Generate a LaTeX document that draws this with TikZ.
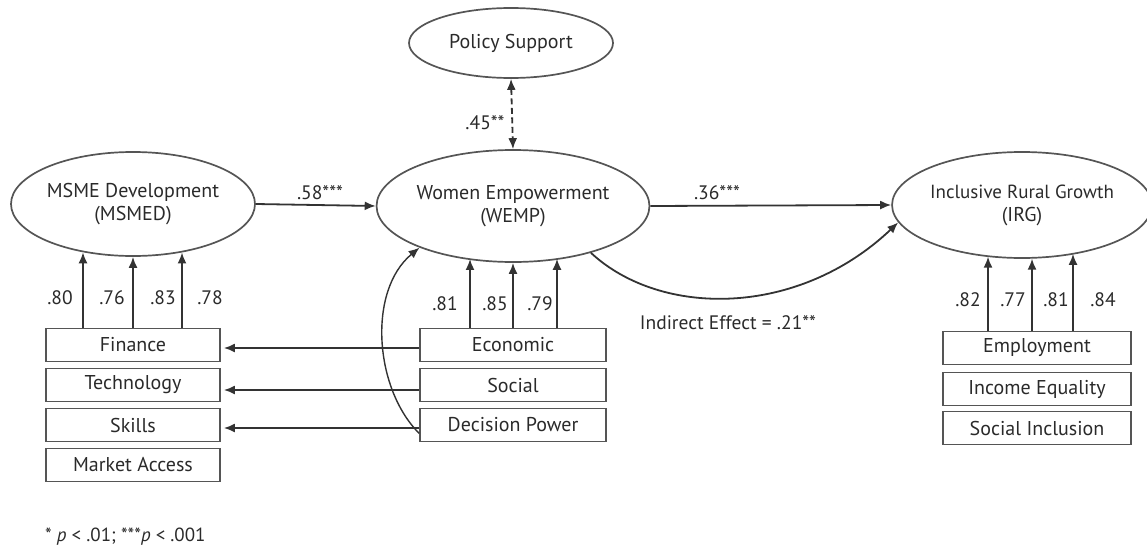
\documentclass[tikz,border=0pt]{standalone}
\usepackage{graphicx}
\usepackage{fontspec}
\setmainfont{PT Sans}
\usetikzlibrary{shapes.geometric,arrows.meta,calc}
\definecolor{txt}{HTML}{2a2a2a}
\definecolor{ln}{HTML}{555555}
\definecolor{ar}{HTML}{333333}
\begin{document}
\begin{tikzpicture}[x=1pt,y=-1pt,
  font=\fontsize{20}{23}\selectfont, text=txt,
  latent/.style={ellipse,draw=ln,line width=1.7pt,inner sep=0pt,align=center},
  indic/.style={rectangle,draw=ln,line width=1.7pt,inner sep=0pt,minimum height=33pt},
  arr/.style={draw=ar,line width=1.8pt,-{Latex[length=11pt,width=9pt]}},
  lab/.style={inner sep=0pt,font=\fontsize{19.5}{22}\selectfont}]
\useasboundingbox (0,0) rectangle (1147,554);
% latent variables
\node[latent,minimum width=244pt,minimum height=104pt] (msmed) at (133,204) {MSME Development\\(MSMED)};
\node[latent,minimum width=204pt,minimum height=70pt] (policy) at (511,43) {Policy Support};
\node[latent,minimum width=234pt,minimum height=112pt] (wemp) at (513,206) {Women Empowerment\\(WEMP)};
\node[latent,minimum width=240pt,minimum height=106pt] (irg) at (1022,205) {{\fontsize{19}{23}\selectfont Inclusive Rural Growth}\\(IRG)};
% indicators
\node[indic,minimum width=174pt] (finance) at (133,345) {Finance};
\node[indic,minimum width=174pt] (tech) at (133,385) {Technology};
\node[indic,minimum width=174pt] (skills) at (133,425) {Skills};
\node[indic,minimum width=174pt] (market) at (133,465) {Market Access};
\node[indic,minimum width=186pt] (econ) at (513,345) {Economic};
\node[indic,minimum width=186pt] (social) at (513,385) {Social};
\node[indic,minimum width=186pt] (decision) at (513,425) {Decision Power};
\node[indic,minimum width=188pt] (employ) at (1037,348) {Employment};
\node[indic,minimum width=188pt] (income) at (1037,389) {Income Equality};
\node[indic,minimum width=188pt] (inclusion) at (1037,428) {Social Inclusion};
% loadings MSMED
\draw[arr] ($(finance.north)+(-50,0)$) -- ($(msmed.south)+(-50,-4.6)$);
\draw[arr] ($(finance.north)+(0,0)$) -- ($(msmed.south)+(0,0)$);
\draw[arr] ($(finance.north)+(49,0)$) -- ($(msmed.south)+(49,-4.4)$);
\node[lab] (l80) at (60,298) {.80};
\node[lab] (l76) at (112,298) {.76};
\node[lab] (l83) at (163,298) {.83};
\node[lab] (l78) at (210,298) {.78};
% loadings WEMP
\draw[arr] ($(econ.north)+(-43,0)$) -- ($(wemp.south)+(-43,-3.9)$);
\draw[arr] ($(econ.north)+(0,0)$) -- ($(wemp.south)+(0,0)$);
\draw[arr] ($(econ.north)+(44,0)$) -- ($(wemp.south)+(44,-4.1)$);
\node[lab] (l81) at (445,304) {.81};
\node[lab] (l85) at (495,304) {.85};
\node[lab] (l79) at (540,304) {.79};
% loadings IRG
\draw[arr] ($(employ.north)+(-49,0)$) -- ($(irg.south)+(-34,-2.2)$);
\draw[arr] ($(employ.north)+(-5,0)$) -- ($(irg.south)+(10,-0.2)$);
\draw[arr] ($(employ.north)+(36,0)$) -- ($(irg.south)+(51,-5)$);
\node[lab] (l82) at (968,300) {.82};
\node[lab] (l77) at (1013,300) {.77};
\node[lab] (l81b) at (1056,300) {.81};
\node[lab] (l84) at (1103,300) {.84};
% structural paths
\draw[arr] (msmed.east) -- (wemp.west);
\node[lab] (p58) at (320,193) {.58***};
\draw[arr] (wemp.east) -- (irg.west);
\node[lab] (p36) at (717,193) {.36***};
\draw[arr] (wemp.-31) .. controls +(70,65) and +(-100,95) .. (irg.-172);
\node[lab] (ind) at (728,323) {Indirect Effect = .21**};
\draw[draw=ar,line width=1.8pt,dash pattern=on 6pt off 3.5pt,{Latex[length=11pt,width=9pt]}-{Latex[length=11pt,width=9pt]}] (policy.south) -- (wemp.north);
\node[lab] (p45) at (485,123) {.45**};
% cross paths
\draw[arr,shorten >=3pt] ([yshift=-3pt]econ.west) -- ([yshift=-3pt]finance.east);
\draw[arr,shorten >=3pt] ([yshift=-5pt]social.west) -- ([yshift=-5pt]tech.east);
\draw[arr,shorten >=3pt] ([yshift=-3pt]decision.west) -- ([yshift=-3pt]skills.east);
\draw[arr,line width=1.4pt] ([yshift=9pt]decision.south west) .. controls +(-45,-45) and +(-52,43) .. (wemp.-156);
% footnote
\node[lab,anchor=west,font=\fontsize{19}{22}\selectfont] (note) at (45,537) {* {\itshape p} < .01; ***{\itshape p} < .001};
\end{tikzpicture}
\end{document}
